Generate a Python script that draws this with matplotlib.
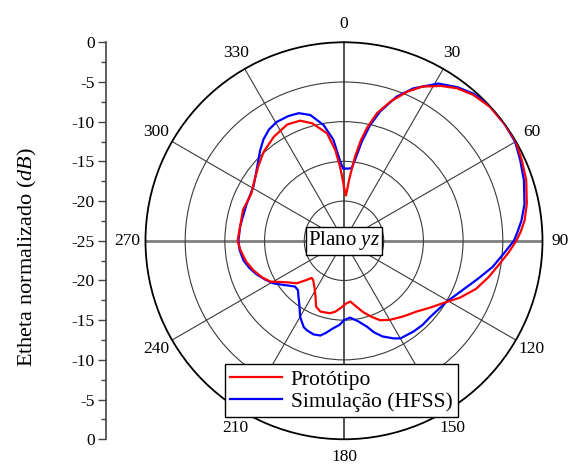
import numpy as np
import matplotlib
matplotlib.use("Agg")
import matplotlib.pyplot as plt
from matplotlib import font_manager
from matplotlib.ticker import FixedLocator

# make sure Liberation Serif is registered (times-like look)
for f in font_manager.findSystemFonts():
    if 'LiberationSerif' in f.replace(' ', ''):
        font_manager.fontManager.addfont(f)

plt.rcParams['font.family'] = ['Liberation Serif', 'DejaVu Serif']
plt.rcParams['mathtext.fontset'] = 'custom'
plt.rcParams['mathtext.rm'] = 'Liberation Serif'
plt.rcParams['mathtext.it'] = 'Liberation Serif:italic'

# Prototipo (measured), angle in degrees / normalized dB
red_ang = [0, 2.5, 5, 7.5, 9.5, 11.5, 14.5, 18.5, 23, 27, 32, 36.5, 41.5, 47.5, 54, 60,
           65.5, 71.5, 78.5, 83.5, 87, 90, 94, 98, 104, 110, 116, 121, 128, 134, 142,
           150, 155.5, 160, 165, 169, 174, 178, 183, 187, 191, 198.5, 203, 207, 212,
           218, 221, 224, 228, 234, 241, 246, 252, 258, 265, 270, 278, 287, 297, 304,
           311, 318, 326, 334, 340, 345, 351, 354.5, 357, 359.5, 360]
red_db = [-18.3, -19.3, -17.1, -14.3, -12.2, -10.5, -8.4, -6.5, -4.6, -3.2, -2.0, -1.1,
          -0.45, -0.05, 0, 0, -0.4, -0.8, -1.5, -2.1, -2.7, -3.3, -4.2, -5.1, -6.2, -7.3,
          -8.7, -10.0, -11.3, -12.2, -12.9, -13.5, -14.0, -14.8, -15.7, -16.5, -17.3,
          -17.1, -16.5, -16.0, -15.7, -15.6, -16.0, -17.1, -18.0, -18.7, -18.8, -18.1,
          -17.0, -16.1, -14.4, -13.7, -13.0, -12.4, -11.9, -11.6, -11.8, -11.7, -11.9,
          -11.4, -10.7, -9.9, -9.2, -8.7, -8.9, -9.7, -11.3, -13.5, -15.7, -17.8, -18.3]

# Simulacao (HFSS)
blue_ang = [0, 3, 6, 7.8, 10.2, 12.7, 15.6, 20, 24.5, 31, 36.5, 41.5, 47.5, 54, 60, 65.5,
            71.5, 78.5, 83.5, 87, 90, 94.5, 100, 106, 113, 120.6, 126, 131, 137, 142.5,
            150, 153, 158, 162, 165, 170, 175.5, 180, 183, 187, 191, 194, 198, 202.5,
            205, 210, 215, 219, 223, 227, 234, 239, 244, 249, 254, 259, 265, 270, 278,
            290, 301, 307, 312, 317, 321.5, 326, 330.5, 336, 340.5, 345, 350, 354, 357,
            358.3, 359.5, 360]
blue_db = [-15.9, -15.9, -15.8, -14.7, -12.3, -10.1, -8.1, -5.7, -3.9, -1.9, -0.95, -0.3,
           0, 0, -0.1, -0.6, -1.1, -1.8, -2.5, -3.1, -3.6, -4.8, -6.0, -7.5, -8.9, -9.95,
           -10.3, -10.5, -10.5, -10.6, -10.8, -11.2, -12.0, -12.9, -13.8, -14.7, -15.3,
           -15.0, -14.4, -13.9, -13.2, -12.7, -12.6, -12.8, -13.0, -13.95, -15.2, -15.9,
           -16.5, -16.55, -15.55, -14.6, -13.9, -13.2, -12.6, -12.1, -11.8, -11.7, -11.8,
           -11.9, -11.7, -11.1, -10.4, -9.5, -8.7, -8.1, -7.8, -7.8, -7.95, -8.6, -10.2,
           -12.2, -14.8, -15.5, -15.9, -15.9]

theta_labels = ['0', '30', '60', '90', '120', '150', '180', '210', '240', '270', '300', '330']
r_grid = [-20, -15, -10, -5]
left_ticks = [-25, -20, -15, -10, -5, 0, 5, 10, 15, 20, 25]

fig = plt.figure(figsize=(5.81, 4.65), dpi=100)
box = [0.2504, 0.0553, 0.6833, 0.8538]
ax = fig.add_axes(box, projection='polar')
ax.set_theta_zero_location('N')
ax.set_theta_direction(-1)
ax.set_rlim(-25, 0)
ax.set_rticks(r_grid)
ax.set_yticklabels([])
ax.set_thetagrids(np.arange(0, 360, 30), labels=theta_labels, fontsize=12.5)
ax.xaxis.set_minor_locator(FixedLocator(np.deg2rad(np.arange(15, 360, 30))))
ax.tick_params(axis='x', which='both', direction='in', length=5, width=1, color='black', pad=6)
ax.grid(True, color='#3a3a3a', lw=0.8)
for i, gl in enumerate(ax.xaxis.get_gridlines()):
    if i in (0, 6):
        gl.set_color('#444444')
        gl.set_linewidth(1.3)
    if i in (3, 9):
        gl.set_color('#808080')
        gl.set_linewidth(2.0)
ax.spines['polar'].set_linewidth(1.3)

ax.plot(np.deg2rad(blue_ang), blue_db, color='#0000ff', lw=1.6, label='Simulação (HFSS)', zorder=3)
ax.plot(np.deg2rad(red_ang), red_db, color='#ff0000', lw=1.6, label='Protótipo', zorder=4)

ax.text(0, -25, 'Plano $\\mathit{yz}$', ha='center', va='center', fontsize=15, zorder=5,
        bbox=dict(boxstyle='square,pad=0.12', fc='white', ec='black', lw=1))

h, l = ax.get_legend_handles_labels()
leg = fig.legend(h[::-1], l[::-1], loc='lower left', bbox_to_anchor=(0.387, 0.103),
                 fontsize=15.5, frameon=True, fancybox=False, framealpha=1, edgecolor='black',
                 handlelength=2.4, handletextpad=0.4, labelspacing=0.1, borderpad=0.25,
                 borderaxespad=0)
leg.get_frame().set_linewidth(1)

# left linear scale
ax2 = fig.add_axes([0.1824, box[1], 0.0001, box[3]])
ax2.patch.set_visible(False)
for s in ['top', 'right', 'bottom']:
    ax2.spines[s].set_visible(False)
ax2.spines['left'].set_color('#444444')
ax2.spines['left'].set_linewidth(1.2)
ax2.set_xticks([])
ax2.set_ylim(-25, 25)
ax2.set_yticks(left_ticks)
ax2.set_yticklabels([str(abs(t) - 25) for t in left_ticks], fontsize=12.5)
ax2.yaxis.set_minor_locator(FixedLocator(np.arange(-22.5, 25, 5)))
ax2.tick_params(axis='y', which='major', length=6, width=1, color='#444444', pad=2)
ax2.tick_params(axis='y', which='minor', length=3.5, width=1, color='#444444')

fig.text(0.047, 0.448, 'Etheta normalizado ($\\mathit{dB}$)', rotation=90, ha='center', va='center',
         fontsize=16)

fig.savefig('out.png', dpi=100)
